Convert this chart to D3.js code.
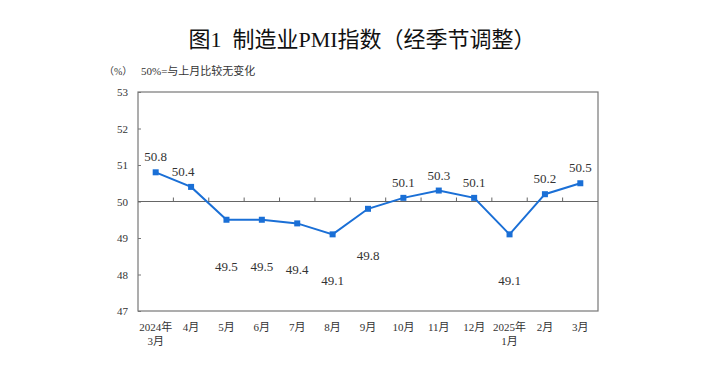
<!DOCTYPE html>
<html><head><meta charset="utf-8">
<script src="https://cdn.jsdelivr.net/npm/d3@7/dist/d3.min.js"></script>
<style>body{margin:0;background:#fff}svg{display:block}</style>
</head><body>
<svg id="c" width="725" height="372"></svg>
<script>
const categories = ["2024年|3月","4月","5月","6月","7月","8月","9月","10月","11月","12月","2025年|1月","2月","3月"];
const pmi = [50.8,50.4,49.5,49.5,49.4,49.1,49.8,50.1,50.3,50.1,49.1,50.2,50.5];
const yTicks = [47,48,49,50,51,52,53];
const title = "图1\u00a0\u00a0制造业PMI指数（经季节调整）";
const unitLabel = "（%）";
const note = "50%=与上月比较无变化";

const FONT = "'Liberation Serif','Noto Sans CJK SC',serif";
const svg = d3.select("#c");
const m = {l:138, r:598, t:92, b:311};
const x = d3.scaleBand().domain(categories).range([m.l, m.r]).padding(0);
const y = d3.scaleLinear().domain([47,53]).range([m.b, m.t]);

svg.append("text").attr("x",362).attr("y",47).attr("text-anchor","middle")
  .attr("font-family",FONT).attr("font-size",22).attr("fill","#111")
  .text(title);
svg.append("text").attr("x",104).attr("y",75).attr("font-family",FONT).attr("font-size",10).attr("fill","#333").text(unitLabel);
svg.append("text").attr("x",141).attr("y",75).attr("font-family",FONT).attr("font-size",11).attr("fill","#333").text(note);

// frame
svg.append("rect").attr("x",m.l).attr("y",m.t).attr("width",m.r-m.l).attr("height",m.b-m.t)
  .attr("fill","none").attr("stroke","#777").attr("stroke-width",1.2);

// y axis
const yAxis = d3.axisLeft(y).tickValues(yTicks).tickSize(-3).tickPadding(10).tickFormat(d3.format("d"));
const ga = svg.append("g").attr("transform",`translate(${m.l},0)`).call(yAxis);
ga.select(".domain").remove();
ga.selectAll("line").attr("stroke","#777");
ga.selectAll("text").attr("font-family",FONT).attr("font-size",11).attr("fill","#333");

// 50 baseline with ticks
const y50 = y(50);
svg.append("line").attr("x1",m.l).attr("x2",m.r).attr("y1",y50).attr("y2",y50).attr("stroke","#666").attr("stroke-width",1.2);
svg.append("g").selectAll("line").data(categories.slice(1)).join("line")
  .attr("x1",d=>x(d)).attr("x2",d=>x(d)).attr("y1",y50).attr("y2",y50-4).attr("stroke","#666");

// x labels
const xl = svg.append("g").selectAll("text").data(categories).join("text")
  .attr("x",d=>x(d)+x.bandwidth()/2).attr("y",331).attr("text-anchor","middle")
  .attr("font-family",FONT).attr("font-size",11).attr("fill","#333");
xl.each(function(d){
  const parts = d.split("|");
  const t = d3.select(this);
  parts.forEach((p,i)=>t.append("tspan").attr("x",x(d)+x.bandwidth()/2).attr("dy",i?14:0).text(p));
});

// line
const cx = (d,i)=>x(categories[i])+x.bandwidth()/2;
svg.append("path").datum(pmi)
  .attr("d",d3.line().x(cx).y(d=>y(d)))
  .attr("fill","none").attr("stroke","#1a6fd6").attr("stroke-width",2);
svg.append("g").selectAll("rect").data(pmi).join("rect")
  .attr("x",(d,i)=>cx(d,i)-3).attr("y",d=>y(d)-3).attr("width",6).attr("height",6).attr("fill","#1a6fd6");

// data labels
svg.append("g").selectAll("text").data(pmi).join("text")
  .attr("x",(d,i)=>cx(d,i)-(i===1?8:0))
  .attr("y",d=>d>=50? y(d)-11 : y(d)+51)
  .attr("text-anchor","middle").attr("font-family",FONT).attr("font-size",13).attr("fill","#333")
  .text(d=>d.toFixed(1));
</script>
</body></html>
